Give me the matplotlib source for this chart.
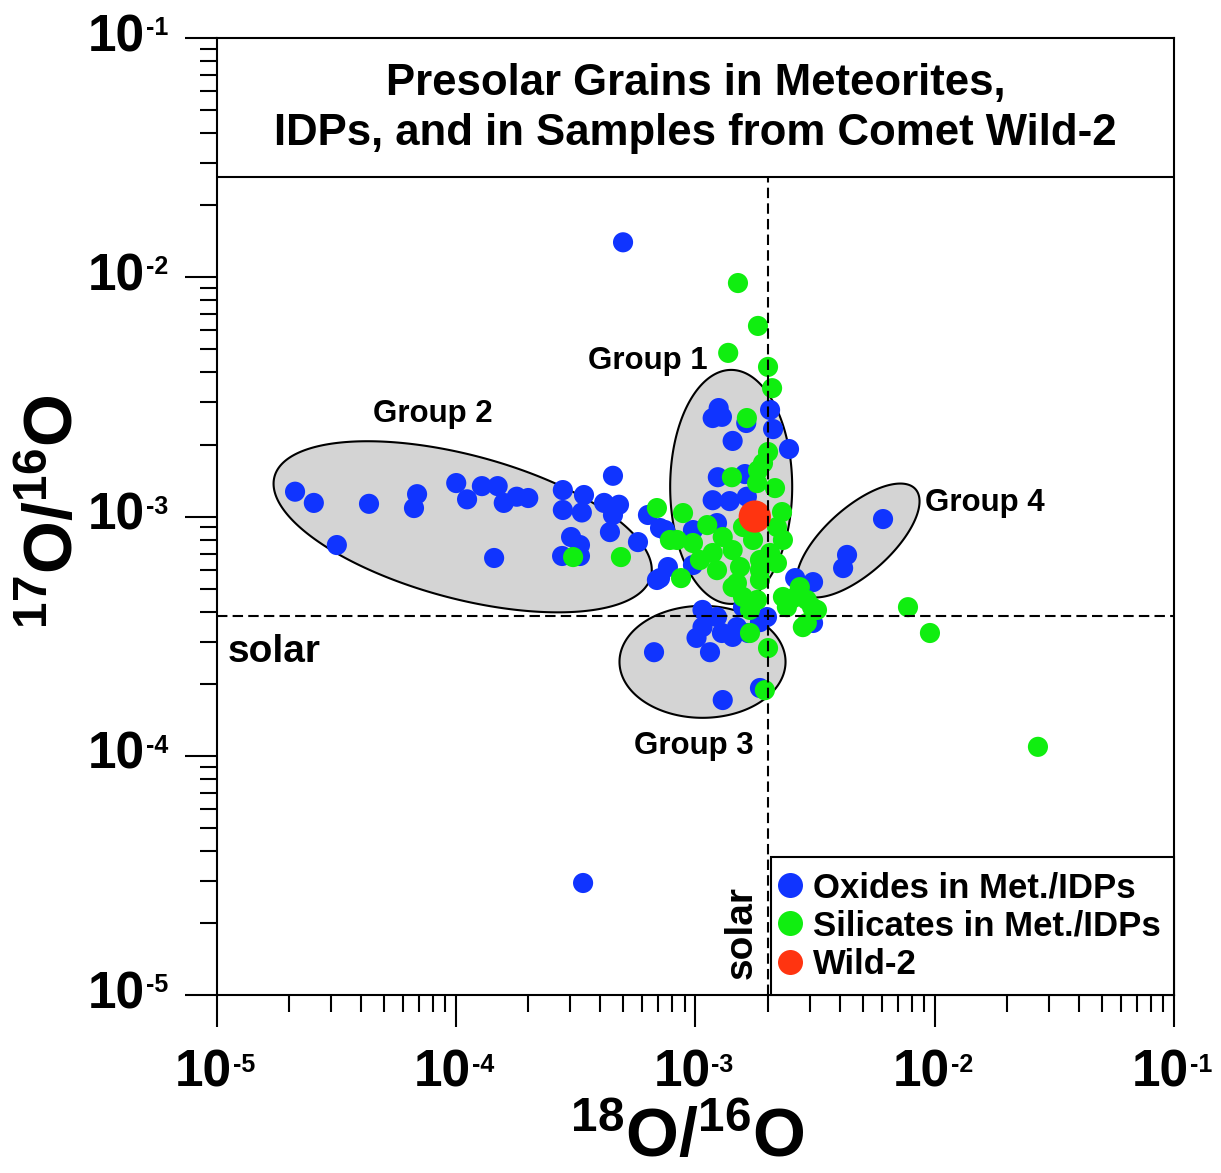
import numpy as np
import matplotlib
matplotlib.use("Agg")
import matplotlib.pyplot as plt
from matplotlib.lines import Line2D
from matplotlib.transforms import offset_copy

plt.rcParams['font.family'] = ['Liberation Sans', 'DejaVu Sans']
plt.rcParams['font.weight'] = 'bold'
plt.rcParams['mathtext.fontset'] = 'custom'
plt.rcParams['mathtext.rm'] = 'Liberation Sans:bold'
plt.rcParams['mathtext.bf'] = 'Liberation Sans:bold'
plt.rcParams['mathtext.it'] = 'Liberation Sans:bold'

# oxide grains in meteorites / IDPs  (18O/16O, 17O/16O)
oxide_x = [2.12e-5, 2.54e-5, 3.17e-5, 4.32e-5, 6.86e-5, 6.66e-5, 1.00e-4, 1.11e-4,
           1.28e-4, 1.49e-4, 1.58e-4, 1.79e-4, 2.00e-4, 1.44e-4, 2.79e-4, 2.79e-4,
           3.42e-4, 3.35e-4, 3.02e-4, 3.29e-4, 2.77e-4, 3.29e-4, 4.52e-4, 4.15e-4,
           4.79e-4, 4.39e-4, 4.52e-4, 5.75e-4, 6.33e-4, 6.90e-4, 7.11e-4, 7.67e-4,
           7.11e-4, 4.98e-4, 3.39e-4, 1.25e-3, 1.18e-3, 1.29e-3, 2.05e-3, 1.63e-3,
           2.11e-3, 1.43e-3, 2.46e-3, 1.24e-3, 1.61e-3, 1.18e-3, 1.39e-3, 1.64e-3,
           7.46e-4, 9.76e-4, 1.23e-3, 9.76e-4, 2.61e-3, 3.10e-3, 4.14e-3, 6.08e-3,
           4.30e-3, 1.07e-3, 1.23e-3, 1.58e-3, 1.86e-3, 1.49e-3, 1.07e-3, 1.99e-3,
           1.01e-3, 1.15e-3, 1.29e-3, 1.66e-3, 1.43e-3, 3.10e-3, 6.71e-4, 1.30e-3,
           1.86e-3]
oxide_y = [1.27e-3, 1.14e-3, 7.60e-4, 1.13e-3, 1.24e-3, 1.085e-3, 1.38e-3, 1.18e-3,
           1.34e-3, 1.34e-3, 1.14e-3, 1.21e-3, 1.195e-3, 6.71e-4, 1.29e-3, 1.065e-3,
           1.23e-3, 1.04e-3, 8.21e-4, 7.60e-4, 6.84e-4, 6.84e-4, 1.48e-3, 1.14e-3,
           1.12e-3, 8.61e-4, 1.015e-3, 7.82e-4, 1.015e-3, 5.43e-4, 8.95e-4, 6.15e-4,
           5.53e-4, 1.40e-2, 2.94e-5, 2.84e-3, 2.58e-3, 2.61e-3, 2.79e-3, 2.46e-3,
           2.32e-3, 2.07e-3, 1.915e-3, 1.46e-3, 1.505e-3, 1.17e-3, 1.16e-3, 1.21e-3,
           8.78e-4, 8.78e-4, 9.39e-4, 6.27e-4, 5.53e-4, 5.32e-4, 6.09e-4, 9.76e-4,
           6.91e-4, 4.07e-4, 3.80e-4, 4.18e-4, 3.62e-4, 3.45e-4, 3.45e-4, 3.80e-4,
           3.11e-4, 2.71e-4, 3.26e-4, 3.26e-4, 3.14e-4, 3.59e-4, 2.71e-4, 1.71e-4,
           1.92e-4]

# silicate grains in meteorites / IDPs
silicate_x = [1.505e-3, 1.825e-3, 1.37e-3, 2.01e-3, 2.09e-3, 1.64e-3, 2.01e-3, 1.915e-3,
              1.42e-3, 1.825e-3, 3.08e-4, 4.88e-4, 6.90e-4, 8.87e-4, 8.37e-4, 8.70e-4,
              1.81e-3, 2.15e-3, 2.30e-3, 1.12e-3, 7.82e-4, 9.76e-4, 1.30e-3, 1.58e-3,
              2.19e-3, 2.32e-3, 1.18e-3, 1.43e-3, 1.74e-3, 2.05e-3, 2.19e-3, 1.23e-3,
              1.535e-3, 1.86e-3, 1.49e-3, 1.86e-3, 1.58e-3, 1.81e-3, 1.69e-3, 2.32e-3,
              2.73e-3, 2.41e-3, 2.92e-3, 3.22e-3, 2.81e-3, 1.69e-3, 2.01e-3, 1.95e-3,
              7.73e-3, 9.55e-3, 2.70e-2, 2.56e-3, 3.07e-3, 2.92e-3, 1.43e-3, 1.86e-3,
              1.044e-3]
silicate_y = [9.46e-3, 6.26e-3, 4.83e-3, 4.22e-3, 3.44e-3, 2.58e-3, 1.86e-3, 1.67e-3,
              1.46e-3, 1.56e-3, 6.77e-4, 6.77e-4, 1.085e-3, 1.034e-3, 7.98e-4, 5.53e-4,
              1.38e-3, 1.315e-3, 1.044e-3, 9.21e-4, 7.98e-4, 7.75e-4, 8.21e-4, 9.04e-4,
              9.04e-4, 7.98e-4, 7.04e-4, 7.24e-4, 7.98e-4, 7.04e-4, 6.39e-4, 5.97e-4,
              6.15e-4, 5.97e-4, 5.27e-4, 5.43e-4, 4.61e-4, 4.48e-4, 4.07e-4, 4.61e-4,
              5.07e-4, 4.18e-4, 4.48e-4, 4.07e-4, 3.45e-4, 3.26e-4, 2.82e-4, 1.88e-4,
              4.18e-4, 3.26e-4, 1.09e-4, 4.56e-4, 4.18e-4, 3.59e-4, 5.07e-4, 6.58e-4,
              6.58e-4]

wild2_x = [1.77e-3]
wild2_y = [1.0e-3]

solar_x = 2.005e-3
solar_y = 3.83e-4
title_box_y = 2.62e-2

# grain groups: centre (ratios), full axes in decades, tilt in degrees
group_names = ["Group 1", "Group 2", "Group 3", "Group 4"]
group_cx = [1.41e-3, 1.064e-4, 1.07e-3, 4.78e-3]
group_cy = [1.33e-3, 9.06e-4, 2.47e-4, 7.94e-4]
group_w = [0.51, 1.628, 0.694, 0.644]
group_h = [0.978, 0.60, 0.468, 0.276]
group_angle = [0.0, -14.9, 0.0, 41.8]
label_x = [6.33e-4, 8.0e-5, 9.86e-4, 1.62e-2]
label_y = [4.47e-3, 2.68e-3, 1.10e-4, 1.14e-3]

major_ticks = [1e-5, 1e-4, 1e-3, 1e-2, 1e-1]
major_exp = ["-5", "-4", "-3", "-2", "-1"]

blue = '#1034ff'
green = '#10ee10'
red = '#ff3410'

fig = plt.figure(figsize=(12.21, 11.73), dpi=100)
ax = fig.add_axes([0.1777, 0.1517, 0.7838, 0.8159])
ax.set_xscale('log')
ax.set_yscale('log')
ax.set_xlim(1e-5, 1e-1)
ax.set_ylim(1e-5, 1e-1)

# group ellipses (drawn in log space)
t = np.linspace(0, 2 * np.pi, 300)
for cx, cy, w, h, ang in zip(group_cx, group_cy, group_w, group_h, group_angle):
    a = np.radians(ang)
    u = w / 2 * np.cos(t)
    v = h / 2 * np.sin(t)
    lx = np.log10(cx) + u * np.cos(a) - v * np.sin(a)
    ly = np.log10(cy) + u * np.sin(a) + v * np.cos(a)
    ax.fill(10 ** lx, 10 ** ly, facecolor='#d4d4d4', edgecolor='black', lw=1.5, zorder=1)

for name, x, y in zip(group_names, label_x, label_y):
    ax.text(x, y, name, fontsize=22.5, fontweight='bold', ha='center', va='center')

ax.scatter(oxide_x, oxide_y, s=210, color=blue, edgecolors='none', zorder=3)
ax.scatter(silicate_x, silicate_y, s=210, color=green, edgecolors='none', zorder=4)
ax.scatter(wild2_x, wild2_y, s=540, color=red, edgecolors='none', zorder=5)

# solar reference lines and title box
ax.axhline(solar_y, color='black', lw=1.5, ls=(0, (5, 2.5)), zorder=6)
ax.plot([solar_x, solar_x], [1e-5, title_box_y], color='black', lw=1.5,
        ls=(0, (5, 2.5)), zorder=6)
ax.axhline(title_box_y, color='black', lw=1.5, zorder=6)

ax.text(1.11e-5, 2.71e-4, 'solar', fontsize=28, fontweight='bold', ha='left', va='center')
ax.text(1.56e-3, 1.83e-5, 'solar', fontsize=28, fontweight='bold', rotation=90,
        ha='center', va='center')

ax.text(0.5, 0.952, 'Presolar Grains in Meteorites,', transform=ax.transAxes,
        fontsize=31.5, fontweight='bold', ha='center', va='center')
ax.text(0.5, 0.900, 'IDPs, and in Samples from Comet Wild-2', transform=ax.transAxes,
        fontsize=31.5, fontweight='bold', ha='center', va='center')

# ticks
for s in ax.spines.values():
    s.set_linewidth(1.5)
ax.tick_params(which='major', length=23, width=1.5, direction='out',
               labelbottom=False, labelleft=False, top=False, right=False)
ax.tick_params(which='minor', length=12, width=1.5, direction='out', top=False, right=False)

xtr = ax.get_xaxis_transform()
ytr = ax.get_yaxis_transform()
for v, e in zip(major_ticks, major_exp):
    ax.text(v, 0, '10', fontsize=37, fontweight='bold', ha='right', va='baseline',
            transform=offset_copy(xtr, fig=fig, x=15, y=-91, units='dots'), clip_on=False)
    ax.text(v, 0, e, fontsize=18, fontweight='bold', ha='left', va='baseline',
            transform=offset_copy(xtr, fig=fig, x=16, y=-77, units='dots'), clip_on=False)
    ax.text(0, v, '10', fontsize=37, fontweight='bold', ha='right', va='baseline',
            transform=offset_copy(ytr, fig=fig, x=-72, y=-13, units='dots'), clip_on=False)
    ax.text(0, v, e, fontsize=18, fontweight='bold', ha='left', va='baseline',
            transform=offset_copy(ytr, fig=fig, x=-71, y=3, units='dots'), clip_on=False)

fig.text(687 / 1221, 2 / 1173, r'$^{18}$O/$^{16}$O', fontsize=49,
         fontweight='bold', ha='center', va='bottom')
fig.text(55 / 1221, 1 - 512 / 1173, r'$^{17}$O/$^{16}$O', fontsize=49,
         fontweight='bold', ha='center', va='center', rotation=90)

handles = [Line2D([], [], ls='none', marker='o', markersize=18, markerfacecolor=c,
                  markeredgecolor='none') for c in (blue, green, red)]
labels = ['Oxides in Met./IDPs', 'Silicates in Met./IDPs', 'Wild-2']
leg = ax.legend(handles, labels, loc='lower left', bbox_to_anchor=(0.579, 0.0, 0.421, 0.144),
                mode='expand', borderaxespad=0, prop={'size': 25, 'weight': 'bold'},
                handlelength=0.3, handletextpad=0.5, borderpad=0.4, labelspacing=0.16,
                fancybox=False, framealpha=1, edgecolor='black')
leg.get_frame().set_linewidth(1.5)
leg.set_zorder(7)

fig.savefig('out.png', dpi=100)
